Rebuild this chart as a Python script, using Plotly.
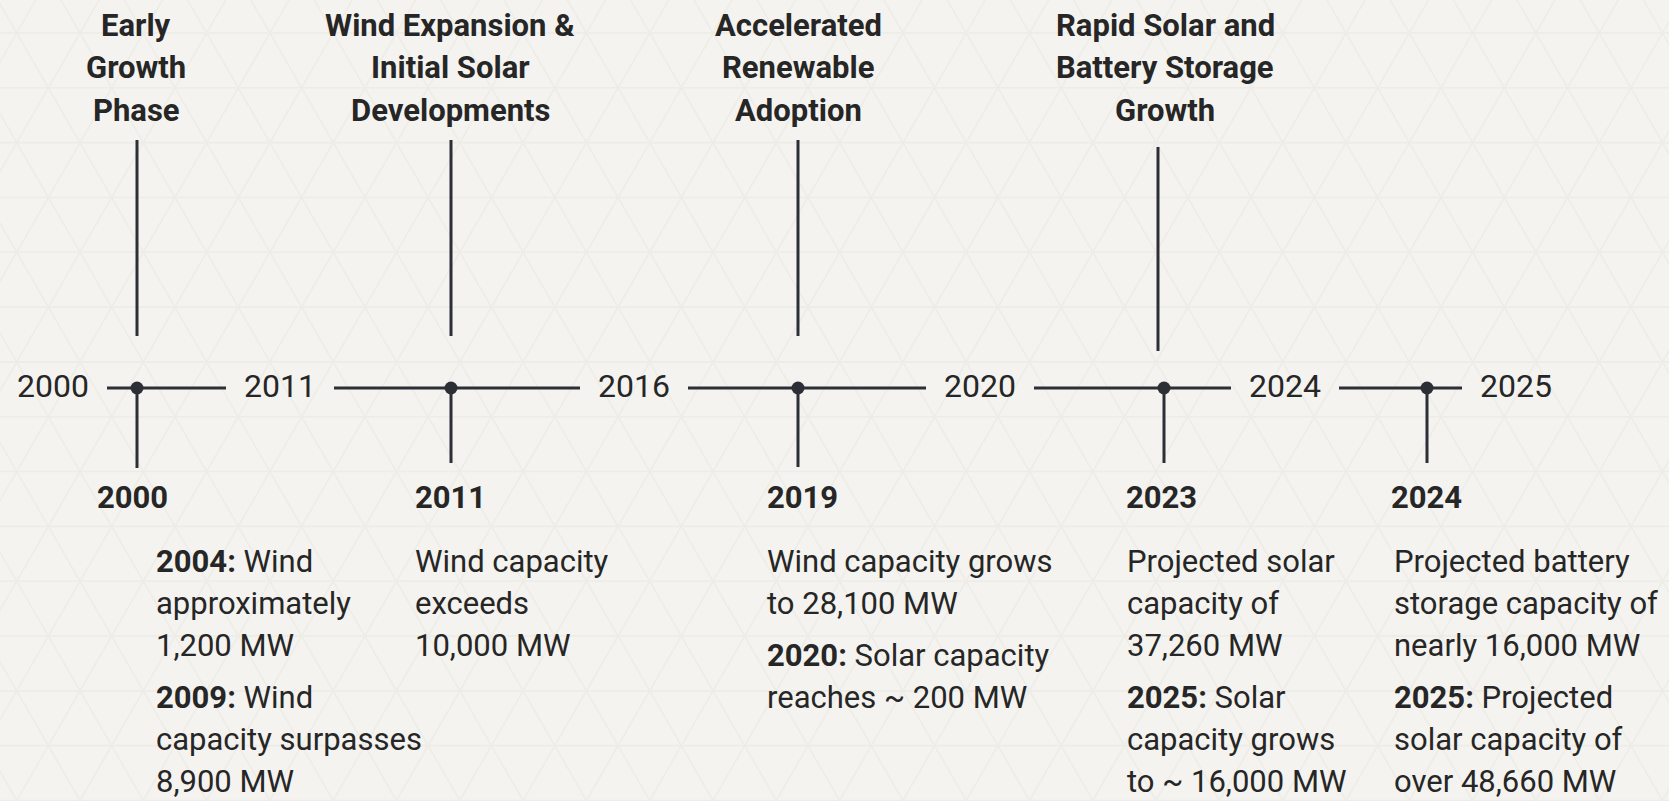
import numpy as np
import plotly.graph_objects as go

# ---------------- data ----------------
PERIOD_TICKS = ["2000", "2011", "2016", "2020", "2024", "2025"]
PHASE_TITLES = [
    ["Early", "Growth", "Phase"],
    ["Wind Expansion &", "Initial Solar", "Developments"],
    ["Accelerated", "Renewable", "Adoption"],
    ["Rapid Solar and", "Battery Storage", "Growth"],
]
EVENT_YEARS = ["2000", "2011", "2019", "2023", "2024"]
EVENT_NOTES = [
    [["<b>2004:</b> Wind", "approximately", "1,200 MW"],
     ["<b>2009:</b> Wind", "capacity surpasses", "8,900 MW"]],
    [["Wind capacity", "exceeds", "10,000 MW"]],
    [["Wind capacity grows", "to 28,100 MW"],
     ["<b>2020:</b> Solar capacity", "reaches ~ 200 MW"]],
    [["Projected solar", "capacity of", "37,260 MW"],
     ["<b>2025:</b> Solar", "capacity grows", "to ~ 16,000 MW"]],
    [["Projected battery", "storage capacity of", "nearly 16,000 MW"],
     ["<b>2025:</b> Projected", "solar capacity of", "over 48,660 MW"]],
]

# ---------------- layout constants (axis units = pixels) ----------------
W, H = 1669, 801
TICK_POS = [53, 280, 634, 980, 1285, 1516]
EVENT_POS = [137, 451, 798, 1164, 1427]
YEAR_LABEL_LEFT = [96, 414, 766, 1125, 1390]
NOTE_LEFT = [155, 414, 766, 1126, 1393]
PHASE_TITLE_X = [136, 450, 798, 1165]
PHASE_LINE_X = [137, 451, 798, 1158]
PHASE_LINE_Y = [(140, 336), (140, 336), (140, 336), (147, 351)]
DROP_END_Y = [468, 463, 467, 463, 463]
AXIS_Y = 388
TICK_GAP = 54
TITLE_BASE = 36
TITLE_STEP = 42.5
YEAR_BASE = 508
NOTE_BASE = 572
LINE_STEP = 42
BLOCK_STEP = 52
BASE_TO_MID = 11

BG = "#f4f3ef"
GRID = "#edece7"
INK = "#2d2f36"
TXT = "#262626"
FONT = "Roboto"
FS = 31

fig = go.Figure()

# faint triangular lattice background (decoration)
side = 63.3
hgt = side * np.sqrt(3) / 2
x0, y0 = 1409.3, 33.0
lx, ly = [], []
for k in range(-2, int(H / hgt) + 3):
    yy = y0 + k * hgt
    lx += [-50, W + 50, None]
    ly += [yy, yy, None]
span = H + 200
dy = span * np.sqrt(3) / 2
for k in range(-40, 60):
    xs = x0 + k * side
    lx += [xs - 0.5 * span, xs + 0.5 * span, None]
    ly += [y0 - dy, y0 + dy, None]
    lx += [xs + 0.5 * span, xs - 0.5 * span, None]
    ly += [y0 - dy, y0 + dy, None]
fig.add_trace(go.Scatter(x=lx, y=ly, mode="lines",
                         line=dict(color=GRID, width=1.6),
                         hoverinfo="skip"))

# main horizontal timeline (broken around period labels)
sx, sy = [], []
for a, b in zip(TICK_POS[:-1], TICK_POS[1:]):
    sx += [a + TICK_GAP, b - TICK_GAP, None]
    sy += [AXIS_Y, AXIS_Y, None]
fig.add_trace(go.Scatter(x=sx, y=sy, mode="lines",
                         line=dict(color=INK, width=3), hoverinfo="skip"))

# phase connectors (above) and event drop lines (below)
vx, vy = [], []
for px, (t, b) in zip(PHASE_LINE_X, PHASE_LINE_Y):
    vx += [px, px, None]
    vy += [t, b, None]
for ex, ey in zip(EVENT_POS, DROP_END_Y):
    vx += [ex, ex, None]
    vy += [AXIS_Y, ey, None]
fig.add_trace(go.Scatter(x=vx, y=vy, mode="lines",
                         line=dict(color=INK, width=3), hoverinfo="skip"))

# event dots
fig.add_trace(go.Scatter(x=EVENT_POS, y=[AXIS_Y] * len(EVENT_POS), mode="markers",
                         marker=dict(color=INK, size=13), hoverinfo="skip"))

ann = []
for x, t in zip(TICK_POS, PERIOD_TICKS):
    ann.append(dict(x=x, y=AXIS_Y - 2, text=t, xanchor="center", yanchor="middle",
                    font=dict(family=FONT, size=32, color=TXT)))
for x, lines in zip(PHASE_TITLE_X, PHASE_TITLES):
    for i, ln in enumerate(lines):
        ann.append(dict(x=x, y=TITLE_BASE + i * TITLE_STEP - BASE_TO_MID,
                        text="<b>" + ln + "</b>", xanchor="center", yanchor="middle",
                        font=dict(family=FONT, size=FS, color=TXT)))
for j, (yr, blocks) in enumerate(zip(EVENT_YEARS, EVENT_NOTES)):
    ann.append(dict(x=YEAR_LABEL_LEFT[j], y=YEAR_BASE - BASE_TO_MID, text="<b>" + yr + "</b>",
                    xanchor="left", yanchor="middle",
                    font=dict(family=FONT, size=FS, color=TXT)))
    base = NOTE_BASE
    for bi, block in enumerate(blocks):
        if bi > 0:
            base += BLOCK_STEP
        for li, ln in enumerate(block):
            if li > 0:
                base += LINE_STEP
            ann.append(dict(x=NOTE_LEFT[j], y=base - BASE_TO_MID, text=ln,
                            xanchor="left", yanchor="middle",
                            font=dict(family=FONT, size=FS, color=TXT)))
for a in ann:
    a.update(xref="x", yref="y", showarrow=False, borderpad=0)

fig.update_layout(
    width=W, height=H, autosize=False,
    margin=dict(l=0, r=0, t=0, b=0, pad=0),
    paper_bgcolor=BG, plot_bgcolor=BG,
    showlegend=False,
    annotations=ann,
    xaxis=dict(range=[0, W], visible=False, fixedrange=True),
    yaxis=dict(range=[H, 0], visible=False, fixedrange=True),
)

fig.write_html("out.html", config={"displayModeBar": False},
               post_script="document.body.style.margin='0';")
